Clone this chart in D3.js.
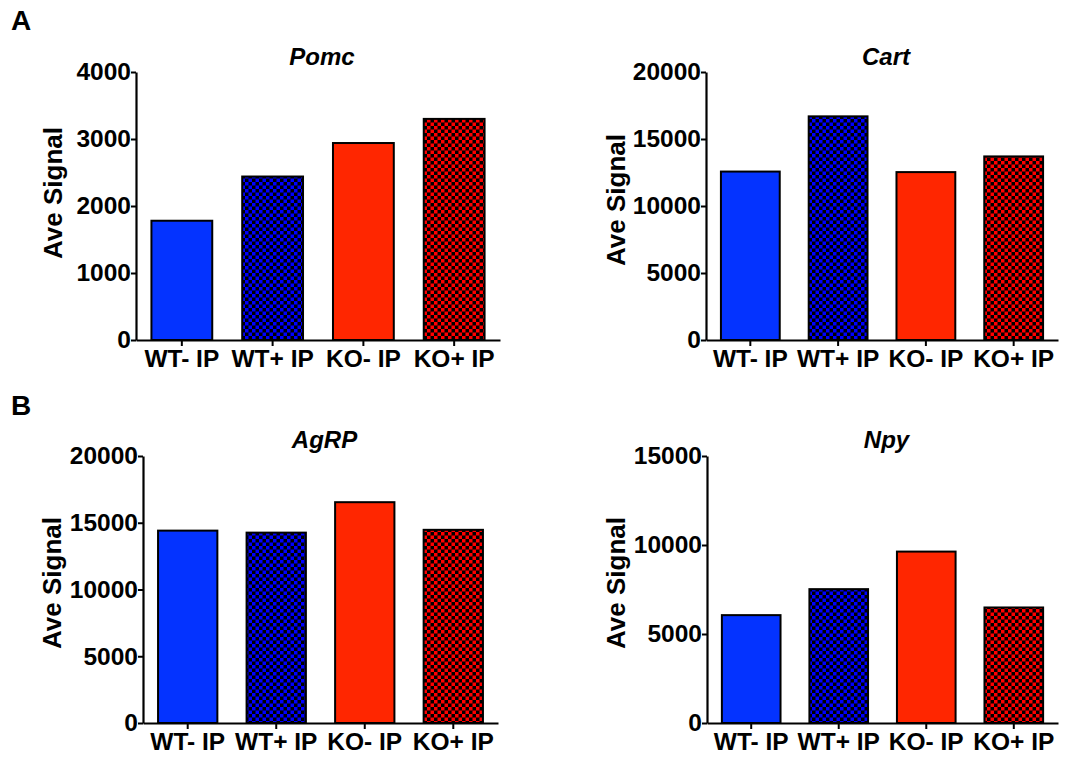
<!DOCTYPE html>
<html>
<head>
<meta charset="utf-8">
<script src="https://cdn.jsdelivr.net/npm/d3@7"></script>
<style>
  body { margin: 0; background: #fff; }
  svg { display: block; font-family: "Liberation Sans", Arial, sans-serif; }
</style>
</head>
<body>
<script>
// categories and values
var groups = ["WT- IP", "WT+ IP", "KO- IP", "KO+ IP"];
var genes = ["Pomc", "Cart", "AgRP", "Npy"];
var pomcValues = [1780, 2440, 2940, 3300];
var cartValues = [12570, 16690, 12530, 13700];
var agrpValues = [14410, 14260, 16540, 14470];
var npyValues = [6060, 7520, 9630, 6490];
var yMaxes = [4000, 20000, 20000, 15000];
var yTickSteps = [1000, 5000, 5000, 5000];
var panelLetters = ["A", "B"];

window.onload = function(){

    var w = 1085, h = 761;

    var svg = d3.select("body")
        .append("svg")
        .attr("width", w)
        .attr("height", h);

    // checker patterns for the "+ IP" bars
    var defs = svg.append("defs");
    function checker(id, color){
        var p = defs.append("pattern")
            .attr("id", id)
            .attr("patternUnits", "userSpaceOnUse")
            .attr("width", 7)
            .attr("height", 7);
        p.append("rect").attr("width", 7).attr("height", 7).attr("fill", "#000");
        p.append("rect").attr("width", 3.5).attr("height", 3.5).attr("fill", color);
        p.append("rect").attr("x", 3.5).attr("y", 3.5).attr("width", 3.5).attr("height", 3.5).attr("fill", color);
    }
    checker("blueCheck", "#0000ff");
    checker("redCheck", "#ff0000");

    var fills = ["#0433ff", "url(#blueCheck)", "#ff2600", "url(#redCheck)"];

    var allValues = [pomcValues, cartValues, agrpValues, npyValues];

    // frame of each panel: y-axis x, x-axis end, top and bottom of y range
    var frames = [
        {x0: 136, x1: 500, y0: 72, y1: 340, labelX: 62, labelY: 193, titleY: 65},
        {x0: 706, x1: 1058, y0: 72, y1: 340, labelX: 625, labelY: 200, titleY: 65},
        {x0: 143, x1: 498, y0: 456, y1: 723, labelX: 61, labelY: 583, titleY: 448},
        {x0: 707, x1: 1058, y0: 456, y1: 723, labelX: 625, labelY: 583, titleY: 448}
    ];

    // panel letters
    svg.selectAll(".letter")
        .data(panelLetters)
        .enter()
        .append("text")
        .attr("class", "letter")
        .attr("x", 11)
        .attr("y", function(d, i){ return i == 0 ? 30 : 415; })
        .style("font-size", "28px")
        .style("font-weight", "bold")
        .text(function(d){ return d; });

    genes.forEach(function(gene, i){
        var f = frames[i];
        var vals = allValues[i];

        var x = d3.scaleBand()
            .domain(groups)
            .range([f.x0, f.x1])
            .paddingInner(0.33)
            .paddingOuter(0.17);

        var y = d3.scaleLinear()
            .domain([0, yMaxes[i]])
            .range([f.y1, f.y0]);

        var g = svg.append("g");

        // bars
        g.selectAll(".bar")
            .data(vals)
            .enter()
            .append("rect")
            .attr("class", "bar")
            .attr("x", function(d, j){ return x(groups[j]); })
            .attr("width", x.bandwidth())
            .attr("y", function(d){ return y(d); })
            .attr("height", function(d){ return y(0) - y(d); })
            .attr("fill", function(d, j){ return fills[j]; })
            .attr("stroke", "#000")
            .attr("stroke-width", 2);

        // y axis
        var yAxis = d3.axisLeft(y)
            .tickValues(d3.range(0, yMaxes[i] + 1, yTickSteps[i]))
            .tickFormat(d3.format("d"))
            .tickSize(5)
            .tickSizeOuter(0)
            .tickPadding(0);

        var ya = g.append("g")
            .attr("transform", "translate(" + f.x0 + ",0)")
            .call(yAxis);

        // x axis
        var xAxis = d3.axisBottom(x)
            .tickSize(6)
            .tickSizeOuter(0)
            .tickPadding(4);

        var xa = g.append("g")
            .attr("transform", "translate(0," + f.y1 + ")")
            .call(xAxis);

        [ya, xa].forEach(function(a){
            a.select(".domain").attr("stroke", "#000").attr("stroke-width", 2.2);
            a.selectAll(".tick line").attr("stroke", "#000").attr("stroke-width", 2);
            a.selectAll(".tick text")
                .attr("fill", "#000")
                .style("font-family", "'Liberation Sans', Arial, sans-serif")
                .style("font-weight", "bold")
                .style("font-size", "24.5px");
        });

        // y axis title
        g.append("text")
            .attr("transform", "translate(" + f.labelX + "," + f.labelY + ") rotate(-90)")
            .attr("text-anchor", "middle")
            .style("font-size", "26px")
            .style("font-weight", "bold")
            .text("Ave Signal");

        // gene title
        g.append("text")
            .attr("x", (f.x0 + f.x1) / 2 + 4)
            .attr("y", f.titleY)
            .attr("text-anchor", "middle")
            .style("font-size", "24px")
            .style("font-weight", "bold")
            .style("font-style", "italic")
            .text(gene);
    });
};
</script>
</body>
</html>
